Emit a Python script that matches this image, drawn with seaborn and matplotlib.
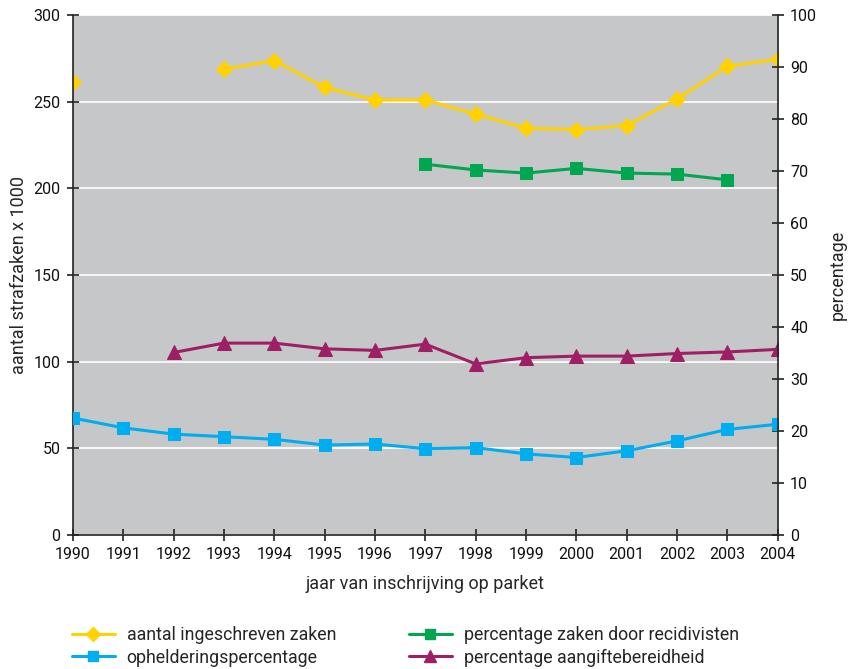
import seaborn as sns
import pandas as pd
import numpy as np
import matplotlib.pyplot as plt
from matplotlib.lines import Line2D

# data
years = list(range(1990, 2005))
zaken = [261.4, np.nan, np.nan, 268.8, 273.6, 258.2, 250.9, 251.0, 242.8, 234.7, 233.9, 236.2, 251.6, 270.3, 274.6]
opheldering = [22.5, 20.6, 19.4, 18.9, 18.4, 17.3, 17.5, 16.6, 16.8, 15.6, 14.9, 16.2, 18.1, 20.3, 21.3]
recidivisten = [np.nan] * 7 + [71.3, 70.2, 69.6, 70.5, 69.6, 69.4, 68.3, np.nan]
aangifte = [np.nan, np.nan, 35.1, 36.9, 36.9, 35.8, 35.5, 36.7, 32.9, 34.1, 34.4, 34.4, 34.9, 35.2, 35.7]

labels = ["aantal ingeschreven zaken", "ophelderingspercentage",
          "percentage zaken door recidivisten", "percentage aangiftebereidheid"]

df = pd.DataFrame({"jaar": years, "zaken": zaken, "opheldering": opheldering,
                   "recidivisten": recidivisten, "aangifte": aangifte})

sns.set_style("white")
plt.rcParams['font.family'] = ['Roboto', 'DejaVu Sans']

YELLOW = "#FFD200"
BLUE = "#00AEEF"
GREEN = "#00A650"
PURPLE = "#9E1F63"
GRAY = "#C6C7C9"
TICK_FS = 11.5
LABEL_FS = 13

fig = plt.figure(figsize=(8.5, 6.69), dpi=100)
ax = fig.add_axes([0.0859, 0.2003, 0.829, 0.7773])
ax.set_facecolor(GRAY)
ax2 = ax.twinx()
ax2.patch.set_visible(False)

lw = 2.2
# yellow series has a gap in 1991/1992 -> draw segments separately
seg1 = df[df["jaar"] <= 1990]
seg2 = df[df["jaar"] >= 1993]
for seg in (seg1, seg2):
    sns.lineplot(data=seg, x="jaar", y="zaken", ax=ax, color=YELLOW, marker="D",
                 markersize=8, markeredgecolor=YELLOW, linewidth=lw, legend=False)

sns.lineplot(data=df.dropna(subset=["opheldering"]), x="jaar", y="opheldering", ax=ax2,
             color=BLUE, marker="s", markersize=8, markeredgecolor=BLUE, linewidth=lw, legend=False)
sns.lineplot(data=df.dropna(subset=["recidivisten"]), x="jaar", y="recidivisten", ax=ax2,
             color=GREEN, marker="s", markersize=8, markeredgecolor=GREEN, linewidth=lw, legend=False)
sns.lineplot(data=df.dropna(subset=["aangifte"]), x="jaar", y="aangifte", ax=ax2,
             color=PURPLE, marker="^", markersize=10, markeredgecolor=PURPLE, linewidth=lw, legend=False)

for a in (ax, ax2):
    a.set_xlim(1990, 2004)
    a.spines["top"].set_visible(False)
    for s in ("left", "right", "bottom"):
        a.spines[s].set_color("#222222")
        a.spines[s].set_linewidth(1.2)
ax.spines["right"].set_visible(False)
ax2.spines["left"].set_visible(False)
ax2.spines["bottom"].set_visible(False)

ax.set_ylim(0, 300)
ax.set_yticks(range(0, 301, 50))
ax2.set_ylim(0, 100)
ax2.set_yticks(range(0, 101, 10))
ax.set_xticks(years)
ax.set_xticklabels([str(y) for y in years])

ax.yaxis.grid(True, color="white", linewidth=1.2)
ax.set_axisbelow(True)

ax.tick_params(axis="both", direction="inout", length=8, width=1.2, color="#222222",
               labelsize=TICK_FS, labelcolor="#111111", left=True, bottom=True, pad=5)
ax2.tick_params(axis="y", direction="inout", length=8, width=1.2, color="#222222",
                labelsize=TICK_FS, labelcolor="#111111", right=True, pad=5)

ax.set_xlabel("jaar van inschrijving op parket", fontsize=LABEL_FS, labelpad=9)
ax.set_ylabel("aantal strafzaken x 1000", fontsize=LABEL_FS, labelpad=4)
ax2.set_ylabel("percentage", fontsize=LABEL_FS, labelpad=8)

handles = [
    Line2D([], [], color=YELLOW, marker="D", markersize=7, linewidth=lw),
    Line2D([], [], color=BLUE, marker="s", markersize=7, linewidth=lw),
    Line2D([], [], color=GREEN, marker="s", markersize=7, linewidth=lw),
    Line2D([], [], color=PURPLE, marker="^", markersize=9, linewidth=lw),
]
fig.legend(handles, labels, ncol=2, loc="upper left", bbox_to_anchor=(0.0847, 0.064),
           frameon=False, fontsize=12.8, handlelength=2.4, columnspacing=4.1,
           labelspacing=0.25, handletextpad=0.67, borderaxespad=0, borderpad=0)

fig.savefig("out.png", dpi=100)
